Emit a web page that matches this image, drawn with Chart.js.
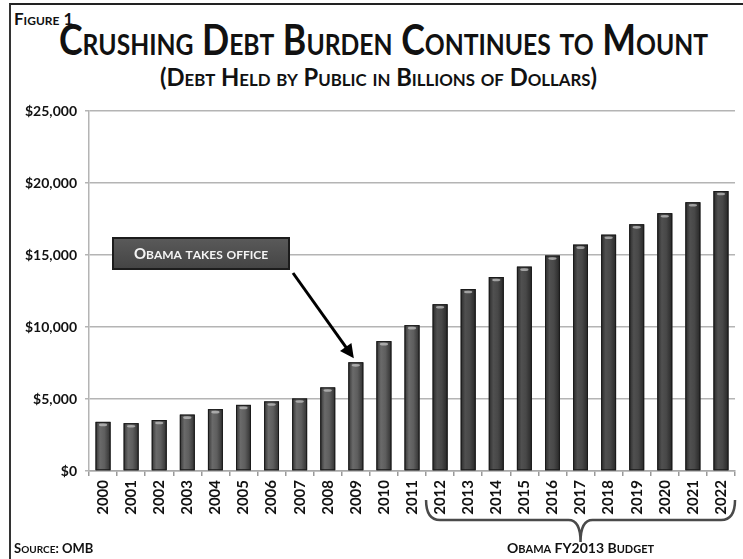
<!DOCTYPE html>
<html>
<head>
<meta charset="utf-8">
<script src="https://cdn.jsdelivr.net/npm/chart.js@4"></script>
<style>
  html, body { margin: 0; padding: 0; background: #fff; }
  #wrap { position: relative; width: 743px; height: 559px; overflow: hidden; font-family: Lato, "Open Sans", sans-serif; }
  #frame { position: absolute; left: 9px; top: 3px; right: -4px; bottom: -4px; border-top: 2px solid #222; border-left: 2px solid #333; }
  .caps { font-variant: small-caps; font-weight: bold; color: #111; position: absolute; white-space: nowrap; }
  #fig { left: 14px; top: 8px; font-size: 17px; }
  #title, #subtitle { transform-origin: 0 0; }
  #title { top: 14px; font-size: 42px; }
  #subtitle { top: 62px; font-size: 24px; }
  canvas { position: absolute; left: 0; top: 0; }
</style>
</head>
<body>
<div id="wrap">
  <div id="frame"></div>
  <div id="fig" class="caps">Figure 1</div>
  <div id="title" class="caps">Crushing Debt Burden Continues to Mount</div>
  <div id="subtitle" class="caps">(Debt Held by Public in Billions of Dollars)</div>
  <canvas id="myChart" width="743" height="559"></canvas>
</div>
<script>
  const years = ['2000', '2001', '2002', '2003', '2004', '2005', '2006', '2007', '2008', '2009', '2010', '2011',
                 '2012', '2013', '2014', '2015', '2016', '2017', '2018', '2019', '2020', '2021', '2022'];
  const debt = [3410, 3320, 3540, 3913, 4295, 4592, 4829, 5035, 5803, 7545, 9019, 10128,
                11578, 12637, 13470, 14190, 14960, 15720, 16410, 17130, 17900, 18660, 19440];
  const yTicks = [0, 5000, 10000, 15000, 20000, 25000];
  const officeYear = '2009';
  const budgetYears = ['2012', '2022'];

  const FONT = 'Lato, "Open Sans", sans-serif';

  // squeeze a heading horizontally into a given span (the original face is narrower)
  function fitHeading(id, left, width) {
    const el = document.getElementById(id);
    const w = el.getBoundingClientRect().width;
    el.style.left = left + 'px';
    el.style.transform = 'scaleX(' + (width / w) + ')';
  }
  fitHeading('title', 59, 649);
  fitHeading('subtitle', 160, 437);

  // canvas text in small caps: lowercase letters become smaller capitals
  function smallCaps(ctx, text, x, y, size, align) {
    const parts = [];
    for (const ch of text) {
      const low = ch !== ch.toUpperCase();
      parts.push({ ch: ch.toUpperCase(), size: low ? Math.round(size * 0.8) : size });
    }
    let total = 0;
    parts.forEach(p => { ctx.font = 'bold ' + p.size + 'px ' + FONT; p.w = ctx.measureText(p.ch).width; total += p.w; });
    let cx = align === 'center' ? x - total / 2 : x;
    ctx.textAlign = 'left';
    ctx.textBaseline = 'alphabetic';
    parts.forEach(p => { ctx.font = 'bold ' + p.size + 'px ' + FONT; ctx.fillText(p.ch, cx, y); cx += p.w; });
  }

  // cylinder-like shading over each bar plus a light cap at the top
  const barShading = {
    id: 'barShading',
    afterDatasetsDraw(chart) {
      const ctx = chart.ctx;
      const meta = chart.getDatasetMeta(0);
      meta.data.forEach((bar, i) => {
        const { x, y, base, width } = bar.getProps(['x', 'y', 'base', 'width'], true);
        const l = x - width / 2;
        const projected = years[i] >= budgetYears[0];
        const g = ctx.createLinearGradient(l, 0, l + width, 0);
        if (projected) {
          g.addColorStop(0, '#2a2a2a');
          g.addColorStop(0.3, '#505050');
          g.addColorStop(0.6, '#484848');
          g.addColorStop(1, '#272727');
        } else {
          g.addColorStop(0, '#333');
          g.addColorStop(0.3, '#6a6a6a');
          g.addColorStop(0.6, '#5e5e5e');
          g.addColorStop(1, '#303030');
        }
        ctx.save();
        ctx.fillStyle = g;
        ctx.fillRect(l, y, width, base - y);
        ctx.strokeStyle = '#1a1a1a';
        ctx.lineWidth = 1;
        ctx.strokeRect(l + 0.5, y + 0.5, width - 1, base - y - 1);
        ctx.fillStyle = 'rgba(200,200,200,0.7)';
        ctx.beginPath();
        ctx.ellipse(x, y + 3, width * 0.28, 1.3, 0, 0, Math.PI * 2);
        ctx.fill();
        ctx.restore();
      });
    }
  };

  // callout box, arrow to the 2009 bar, budget brace and footer texts
  const notes = {
    id: 'notes',
    afterDraw(chart) {
      const ctx = chart.ctx;
      const xs = chart.scales.x, ys = chart.scales.y;
      const area = chart.chartArea;
      const step = xs.getPixelForValue(1) - xs.getPixelForValue(0);

      // "Obama takes office" box
      const bx = area.left + 24, by = ys.getPixelForValue(15000) - 17, bw = 176, bh = 31;
      ctx.save();
      const bg = ctx.createLinearGradient(0, by, 0, by + bh);
      bg.addColorStop(0, '#5a5a5a');
      bg.addColorStop(1, '#444');
      ctx.fillStyle = bg;
      ctx.fillRect(bx, by, bw, bh);
      ctx.strokeStyle = '#1c1c1c';
      ctx.lineWidth = 2;
      ctx.strokeRect(bx, by, bw, bh);
      ctx.fillStyle = '#f4f4f4';
      smallCaps(ctx, 'Obama takes office', bx + bw / 2, by + 21, 15, 'center');

      // arrow to the top of the 2009 bar
      const oi = years.indexOf(officeYear);
      const bar = chart.getDatasetMeta(0).data[oi];
      const tx = bar.x - 2, ty = bar.y - 4;
      const sx = bx + bw + 4, sy = by + bh + 4;
      const ang = Math.atan2(ty - sy, tx - sx);
      ctx.strokeStyle = '#000';
      ctx.fillStyle = '#000';
      ctx.lineWidth = 3;
      ctx.beginPath();
      ctx.moveTo(sx, sy);
      ctx.lineTo(tx - 10 * Math.cos(ang), ty - 10 * Math.sin(ang));
      ctx.stroke();
      ctx.beginPath();
      ctx.moveTo(tx, ty);
      ctx.lineTo(tx - 14 * Math.cos(ang) + 7 * Math.sin(ang), ty - 14 * Math.sin(ang) - 7 * Math.cos(ang));
      ctx.lineTo(tx - 14 * Math.cos(ang) - 7 * Math.sin(ang), ty - 14 * Math.sin(ang) + 7 * Math.cos(ang));
      ctx.closePath();
      ctx.fill();

      // brace under the budget years
      const x0 = xs.getPixelForValue(years.indexOf(budgetYears[0])) - step / 2;
      const x1 = Math.min(xs.getPixelForValue(years.indexOf(budgetYears[1])) + step / 2, 740);
      const xm = (x0 + x1) / 2;
      const yTop = 500, yMid = 520, yTip = 542;
      ctx.strokeStyle = '#4a4a4a';
      ctx.lineWidth = 2.5;
      ctx.beginPath();
      ctx.moveTo(x0, yTop);
      ctx.quadraticCurveTo(x0, yMid, x0 + 14, yMid);
      ctx.lineTo(xm - 12, yMid);
      ctx.quadraticCurveTo(xm, yMid, xm, yTip);
      ctx.quadraticCurveTo(xm, yMid, xm + 12, yMid);
      ctx.lineTo(x1 - 14, yMid);
      ctx.quadraticCurveTo(x1, yMid, x1, yTop);
      ctx.stroke();

      ctx.fillStyle = '#111';
      smallCaps(ctx, 'Obama FY2013 Budget', xm, 553, 14, 'center');
      smallCaps(ctx, 'Source: OMB', 14, 553, 13, 'left');
      ctx.restore();
    }
  };

  new Chart(document.getElementById('myChart'), {
    type: 'bar',
    data: {
      labels: years,
      datasets: [{
        data: debt,
        backgroundColor: '#4a4a4a',
        barPercentage: 0.53,
        categoryPercentage: 1
      }]
    },
    options: {
      responsive: false,
      animation: false,
      layout: { padding: { top: 111, right: 1, left: 0, bottom: 0 } },
      scales: {
        x: {
          afterFit: s => { s.height = 88; },
          ticks: {
            minRotation: 90,
            maxRotation: 90,
            padding: 4,
            color: '#111',
            font: { family: FONT, size: 15, weight: 'bold' }
          },
          grid: {
            drawOnChartArea: false,
            color: '#9a9a9a',
            tickLength: 5,
            lineWidth: 1.5
          },
          border: { color: '#a8a8a8', width: 1.5 }
        },
        y: {
          min: 0,
          max: 25000,
          afterFit: s => { s.width = 89; },
          afterBuildTicks: s => { s.ticks = yTicks.map(v => ({ value: v })); },
          ticks: {
            padding: 8,
            color: '#111',
            font: { family: FONT, size: 14, weight: 'bold' },
            callback: v => '$' + v.toLocaleString('en-US')
          },
          grid: {
            color: '#b4b4b4',
            lineWidth: 1.5,
            tickLength: 4
          },
          border: { color: '#b4b4b4', width: 1.5 }
        }
      },
      plugins: {
        legend: { display: false },
        tooltip: { enabled: false }
      }
    },
    plugins: [barShading, notes]
  });
</script>
</body>
</html>
